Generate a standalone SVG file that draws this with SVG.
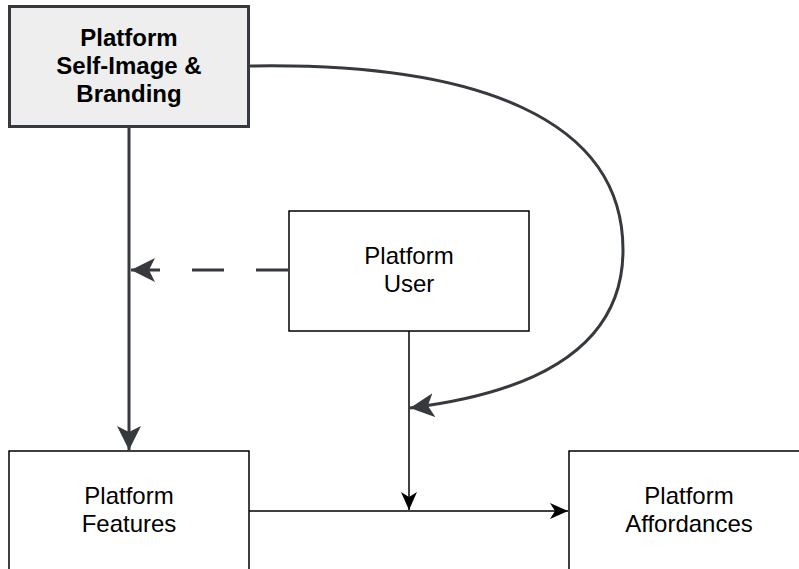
<svg xmlns="http://www.w3.org/2000/svg" width="799" height="569" viewBox="0 0 799 569">
<style>
.box{fill:#ffffff;stroke:#000000;stroke-width:1.5}
.main{fill:#eeeeee;stroke:#36393d;stroke-width:3}
.t{font-family:"Liberation Sans",Arial,sans-serif;font-size:24px;fill:#000;text-anchor:middle}
.b{font-weight:bold}
.dk{fill:none;stroke:#36393d;stroke-width:3}
.bk{fill:none;stroke:#000;stroke-width:1.5}
</style>
<defs>
<marker id="ad" markerUnits="userSpaceOnUse" markerWidth="26" markerHeight="26" viewBox="0 0 26 26" refX="24" refY="13" orient="auto">
<path d="M0,1 L24,13 L0,25 L6,13 Z" fill="#36393d"/>
</marker>
<marker id="ab" markerUnits="userSpaceOnUse" markerWidth="20" markerHeight="20" viewBox="0 0 20 20" refX="18" refY="10" orient="auto">
<path d="M0,2 L18,10 L0,18 L5,10 Z" fill="#000"/>
</marker>
</defs>
<g id="connectors">
<path class="dk" d="M129,127 L129,450" marker-end="url(#ad)"/>
<path class="dk" d="M288,270 L131,270" stroke-dasharray="32 32" marker-end="url(#ad)"/>
<path class="dk" d="M249,66 C480,62 623,120 623,250 C623,345 540,392 410,408" marker-end="url(#ad)"/>
<path class="bk" d="M409,331 L409,510" marker-end="url(#ab)"/>
<path class="bk" d="M249,511 L568,511" marker-end="url(#ab)"/>
</g>
<g id="node-branding">
<rect class="main" x="9.5" y="6.5" width="239" height="120"/>
<text class="t b" x="129" y="46">Platform</text>
<text class="t b" x="129" y="74">Self-Image &amp;</text>
<text class="t b" x="129" y="102">Branding</text>
</g>
<g id="node-user">
<rect class="box" x="289" y="211" width="240" height="120"/>
<text class="t" x="409" y="264">Platform</text>
<text class="t" x="409" y="292">User</text>
</g>
<g id="node-features">
<rect class="box" x="9" y="451" width="240" height="120"/>
<text class="t" x="129" y="504">Platform</text>
<text class="t" x="129" y="532">Features</text>
</g>
<g id="node-affordances">
<rect class="box" x="569" y="451" width="240" height="120"/>
<text class="t" x="689" y="504">Platform</text>
<text class="t" x="689" y="532">Affordances</text>
</g>
</svg>
